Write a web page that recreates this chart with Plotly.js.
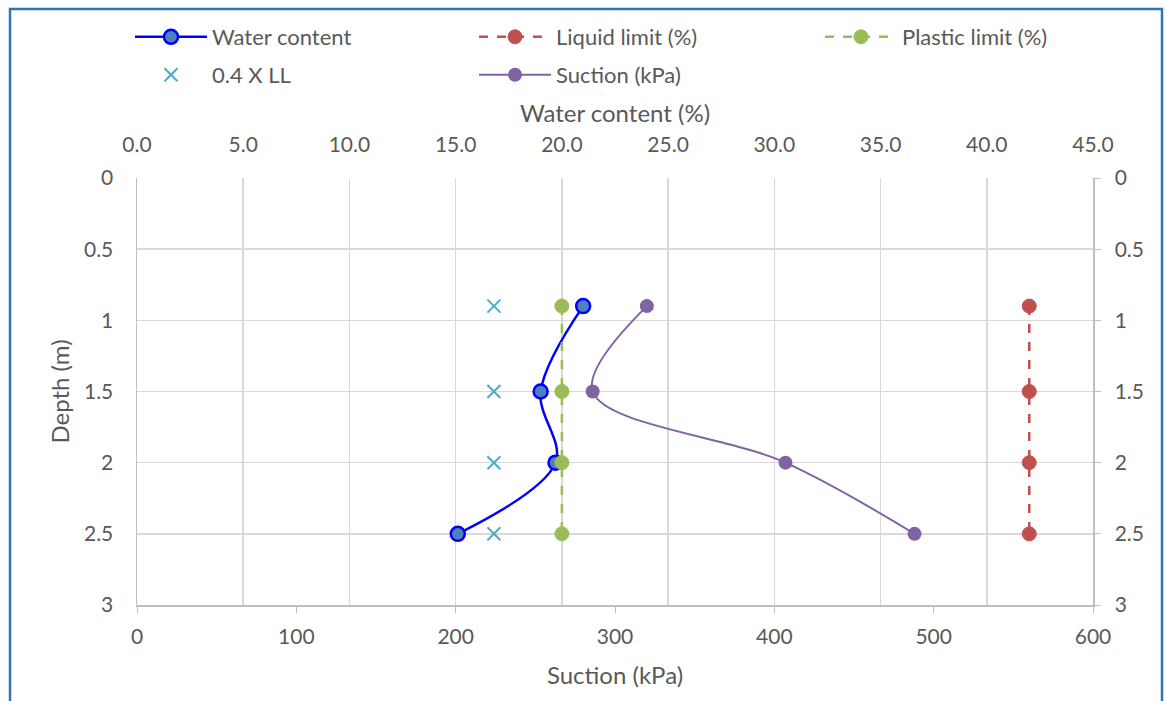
<!DOCTYPE html>
<html>
<head>
<meta charset="utf-8">
<script src="https://cdn.plot.ly/plotly-3.0.1.min.js"></script>
<style>html,body{margin:0;padding:0;background:#fff;}#chart{width:1166px;height:701px;}</style>
</head>
<body>
<div id="chart"></div>
<script>
const depth = [0.9, 1.5, 2.0, 2.5];
const waterContent = [21.0, 19.0, 19.7, 15.1];
const liquidLimit = [42, 42, 42, 42];
const plasticLimit = [20, 20, 20, 20];
const llFraction = [16.8, 16.8, 16.8, 16.8];
const suction = [320, 286, 407, 488];
const depthTicks = [0, 0.5, 1, 1.5, 2, 2.5, 3];
const depthTickLabels = ['0', '0.5', '1', '1.5', '2', '2.5', '3'];

const FONT = 'Lato, "Open Sans", sans-serif';
const TXT = '#595959';

const traces = [
  {name: 'Water content', x: waterContent, y: depth, xaxis: 'x2', yaxis: 'y', mode: 'lines+markers',
   line: {color: '#0000FF', width: 2.5, shape: 'spline', smoothing: 1},
   marker: {symbol: 'circle', size: 14, color: '#4F81BD', line: {color: '#0000FF', width: 2.5}}, legend: 'legend'},
  {name: 'Liquid limit (%)', x: liquidLimit, y: depth, xaxis: 'x2', yaxis: 'y', mode: 'lines+markers',
   line: {color: '#C0504D', width: 2.5, dash: 'dash'},
   marker: {symbol: 'circle', size: 14, color: '#C0504D', line: {color: '#C0504D', width: 1}}, legend: 'legend2'},
  {name: 'Plastic limit (%)', x: plasticLimit, y: depth, xaxis: 'x2', yaxis: 'y', mode: 'lines+markers',
   line: {color: '#9BBB59', width: 2.5, dash: 'dash'},
   marker: {symbol: 'circle', size: 14, color: '#9BBB59', line: {color: '#9BBB59', width: 1}}, legend: 'legend3'},
  {name: '0.4 X LL', x: llFraction, y: depth, xaxis: 'x2', yaxis: 'y', mode: 'markers',
   marker: {symbol: 'x-thin', size: 13, color: '#4BACC6', line: {color: '#4BACC6', width: 2}}, legend: 'legend4'},
  {name: 'Suction (kPa)', x: suction, y: depth, xaxis: 'x', yaxis: 'y', mode: 'lines+markers',
   line: {color: '#8064A2', width: 2, shape: 'spline', smoothing: 1},
   marker: {symbol: 'circle', size: 14, color: '#8064A2'}, legend: 'legend5'},
  {name: 'mirror', x: suction, y: depth, xaxis: 'x', yaxis: 'y2', mode: 'markers',
   marker: {opacity: 0}, showlegend: false, hoverinfo: 'skip'}
];

function leg(xPaper, yPaper) {
  return {orientation: 'h', x: xPaper, xanchor: 'left', y: yPaper, yanchor: 'middle', xref: 'paper', yref: 'paper',
    itemwidth: 72, font: {size: 22, color: TXT}, bgcolor: 'rgba(0,0,0,0)', borderwidth: 0};
}
// plot area: 137..1093 px (956 wide), 178..605 px (427 tall)
const px = v => (v - 137) / 956;
const py = v => (605 - v) / 427;

const layout = {
  width: 1166, height: 701,
  margin: {l: 137, r: 73, t: 178, b: 96, autoexpand: false},
  paper_bgcolor: '#ffffff', plot_bgcolor: '#ffffff',
  font: {family: FONT, size: 21, color: TXT},
  xaxis: {range: [0, 600], dtick: 100, tick0: 0, side: 'bottom', showgrid: false, zeroline: false,
    showline: true, linecolor: '#BFBFBF', linewidth: 1.5, ticks: 'outside', ticklen: 6, tickcolor: '#BFBFBF',
    ticklabelstandoff: 6, automargin: false,
    title: {text: 'Suction (kPa)', standoff: 20, font: {size: 24, color: TXT}}},
  xaxis2: {range: [0, 45], dtick: 5, tick0: 0, tickformat: '.1f', side: 'top', overlaying: 'x', anchor: 'y',
    showgrid: true, gridcolor: '#D9D9D9', gridwidth: 1.5, zeroline: false, showline: false, ticks: '',
    ticklabelstandoff: 21, automargin: false,
    title: {text: 'Water content (%)', standoff: 1, font: {size: 24, color: TXT}}},
  yaxis: {range: [3, 0], tickvals: depthTicks, ticktext: depthTickLabels, showgrid: true, gridcolor: '#D9D9D9', gridwidth: 1.5,
    zeroline: false, showline: true, linecolor: '#BFBFBF', linewidth: 1.5, ticks: '', ticklabelstandoff: 18, automargin: false,
    title: {text: 'Depth (m)', standoff: 7, font: {size: 24, color: TXT}}},
  yaxis2: {range: [3, 0], tickvals: depthTicks, ticktext: depthTickLabels, overlaying: 'y', side: 'right', anchor: 'x',
    showgrid: false, zeroline: false, showline: true, linecolor: '#BFBFBF', linewidth: 1.5,
    ticks: 'outside', ticklen: 6, tickcolor: '#BFBFBF', ticklabelstandoff: 10, automargin: false},
  legend: leg(px(130), py(37)),
  legend2: leg(px(474), py(37)),
  legend3: leg(px(820), py(37)),
  legend4: leg(px(130), py(75)),
  legend5: leg(px(474), py(75)),
  shapes: [{type: 'rect', xref: 'paper', yref: 'paper', x0: px(10), x1: px(1162), y0: py(720), y1: py(9),
    line: {color: '#2E75B6', width: 2.5}, fillcolor: 'rgba(0,0,0,0)', layer: 'below'}]
};

Plotly.newPlot('chart', traces, layout, {displayModeBar: false, staticPlot: true});
</script>
</body>
</html>
